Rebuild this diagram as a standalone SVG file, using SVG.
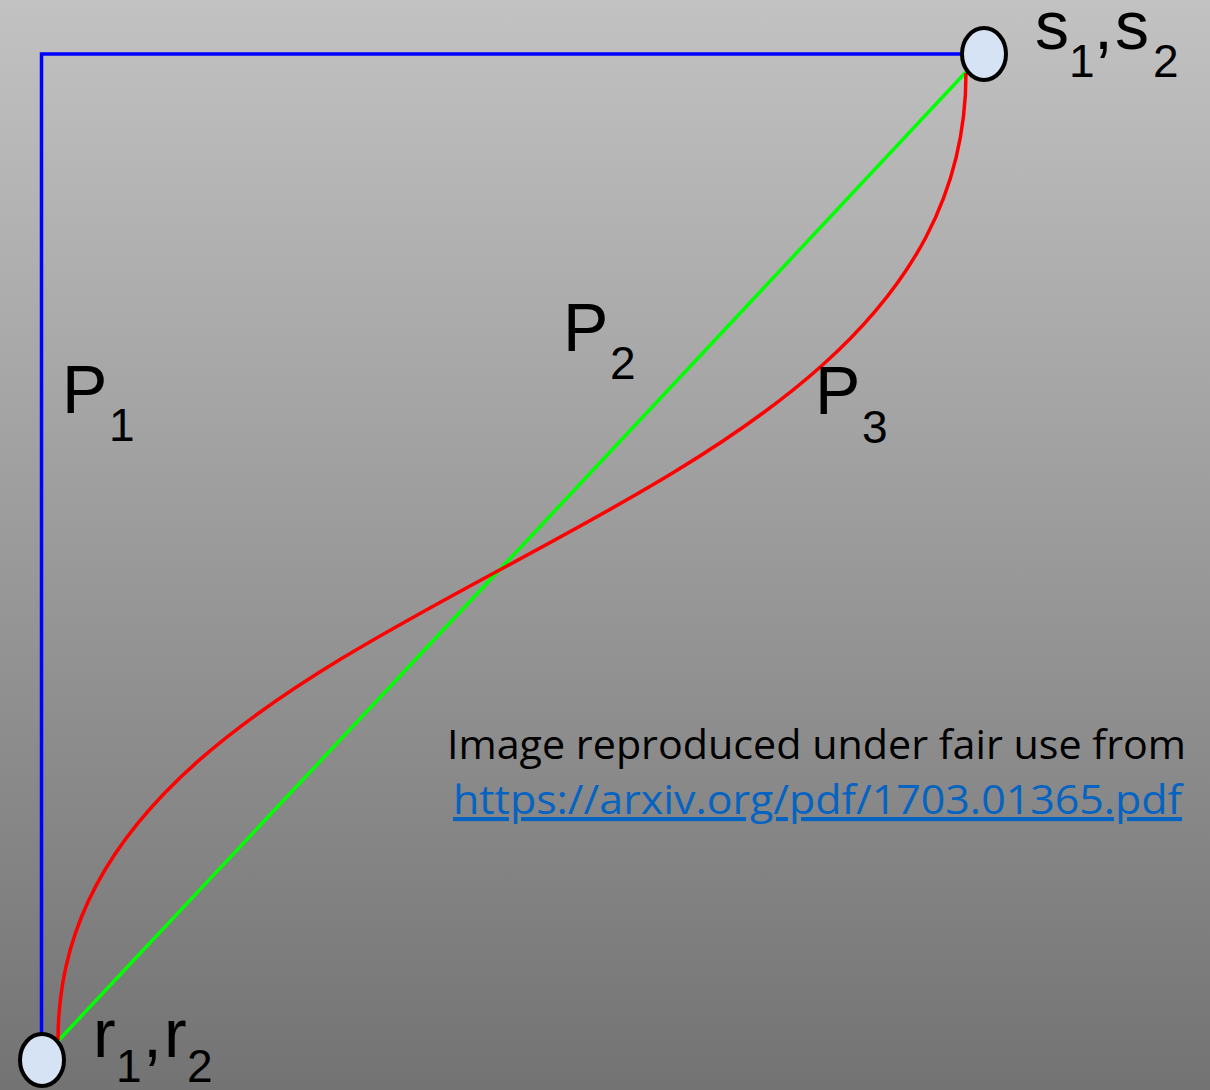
<svg xmlns="http://www.w3.org/2000/svg" width="1210" height="1090" viewBox="0 0 1210 1090">
<defs>
<linearGradient id="bg" x1="0" y1="0" x2="0" y2="1">
<stop offset="0" stop-color="#c2c2c2"/>
<stop offset="1" stop-color="#737373"/>
</linearGradient>
</defs>
<style>
.node{fill:#d5e3f4;stroke:#000;stroke-width:4}
.edge{fill:none;stroke-width:3.5}
.lbl{font-family:"Liberation Sans",Arial,sans-serif;fill:#000}
.big{font-size:68px}
.sub{font-size:46px}
.note{font-family:"Open Sans","Liberation Sans",sans-serif;font-size:41px}
</style>
<rect x="0" y="0" width="1210" height="1090" fill="url(#bg)"/>
<g id="connectors">
<polyline id="P1" class="edge" stroke="#0000ff" stroke-width="3" points="41.5,1034 41.5,54 961,54"/>
<line id="P2" class="edge" stroke="#00ff00" stroke-width="3" x1="58" y1="1041" x2="966" y2="72"/>
<path id="P3" class="edge" stroke="#ff0000" d="M58,1040 C58,571 966,560 966,73"/>
</g>
<g id="node-s">
<ellipse class="node" cx="984" cy="54" rx="22" ry="26"/>
<text class="lbl big" y="49"><tspan x="1035">s</tspan><tspan class="sub" x="1069" y="77">1</tspan><tspan x="1094" y="49">,</tspan><tspan x="1115">s</tspan><tspan class="sub" x="1153" y="77">2</tspan></text>
</g>
<g id="node-r">
<ellipse class="node" cx="42" cy="1060" rx="22" ry="26"/>
<text class="lbl big" y="1057"><tspan x="93">r</tspan><tspan class="sub" x="116" y="1082">1</tspan><tspan x="143" y="1057">,</tspan><tspan x="164">r</tspan><tspan class="sub" x="187" y="1082">2</tspan></text>
</g>
<g id="labels">
<text class="lbl big" y="413"><tspan x="62">P</tspan><tspan class="sub" x="109" y="441">1</tspan></text>
<text class="lbl big" y="351"><tspan x="563">P</tspan><tspan class="sub" x="610" y="379">2</tspan></text>
<text class="lbl big" y="414"><tspan x="815">P</tspan><tspan class="sub" x="862" y="443">3</tspan></text>
</g>
<g id="note">
<text class="note" x="447" y="759" fill="#000" textLength="739" lengthAdjust="spacingAndGlyphs">Image reproduced under fair use from</text>
<text class="note" x="453" y="814" fill="#0563c1" text-decoration="underline" textLength="729" lengthAdjust="spacingAndGlyphs">https://arxiv.org/pdf/1703.01365.pdf</text>
</g>
</svg>
